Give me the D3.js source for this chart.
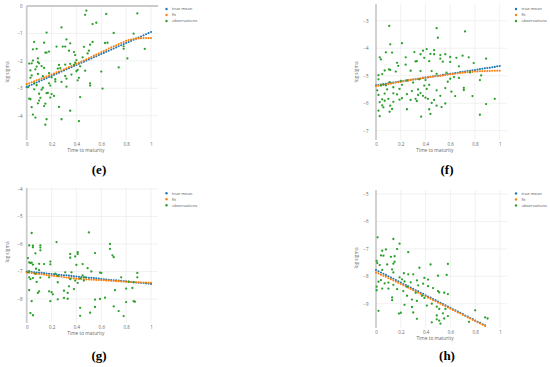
<!DOCTYPE html>
<html>
<head>
<meta charset="utf-8">
<script src="https://cdn.jsdelivr.net/npm/d3@7"></script>
<style>
    body { margin: 0; background: #fff; }
    svg { display: block; }
    .tick text, .lbl { font-family: "Open Sans", Arial, sans-serif; fill: #666; }
    .cap { font-family: "Liberation Serif", "DejaVu Serif", serif; font-weight: bold; fill: #000; }
</style>
</head>
<body>
<svg id="chart" width="550" height="367"></svg>
<script>
"use strict";

// maturity grid of the model curves
const X_GRID = [0, 0.02, 0.04, 0.06, 0.08, 0.1, 0.12, 0.14, 0.16, 0.18, 0.2, 0.22, 0.24, 0.26, 0.28, 0.3, 0.32, 0.34, 0.36, 0.38,
    0.4, 0.42, 0.44, 0.46, 0.48, 0.5, 0.52, 0.54, 0.56, 0.58, 0.6, 0.62, 0.64, 0.66, 0.68, 0.7, 0.72, 0.74, 0.76, 0.78,
    0.8, 0.82, 0.84, 0.86, 0.88, 0.9, 0.92, 0.94, 0.96, 0.98, 1];
const X_GRID_H = [0, 0.02, 0.04, 0.06, 0.08, 0.1, 0.12, 0.14, 0.16, 0.18, 0.2, 0.22, 0.24, 0.26, 0.28, 0.3, 0.32, 0.34, 0.36, 0.38,
    0.4, 0.42, 0.44, 0.46, 0.48, 0.5, 0.52, 0.54, 0.56, 0.58, 0.6, 0.62, 0.64, 0.66, 0.68, 0.7, 0.72, 0.74, 0.76, 0.78,
    0.8, 0.82, 0.84, 0.86, 0.88];

const X_TICKS = [0, 0.2, 0.4, 0.6, 0.8, 1];
const Y_TICKS_E = [0, -1, -2, -3, -4];
const Y_TICKS_F = [-3, -4, -5, -6, -7];
const Y_TICKS_G = [-4, -5, -6, -7, -8];
const Y_TICKS_H = [-5, -6, -7, -8, -9];

const SERIES_NAMES = ["true mean", "fit", "observations"];
const SERIES_COLORS = ["#1f77b4", "#ff7f0e", "#2ca02c"];
const X_TITLE = "Time to maturity";
const Y_TITLE = "log sigma";
const CAPTIONS = ["(e)", "(f)", "(g)", "(h)"];

// (e)
const MEAN_E = [-2.95, -2.91, -2.87, -2.83, -2.79, -2.75, -2.71, -2.67, -2.63, -2.59, -2.55, -2.51, -2.47, -2.43, -2.39, -2.35, -2.31,
    -2.27, -2.23, -2.19, -2.15, -2.11, -2.07, -2.03, -1.99, -1.95, -1.91, -1.87, -1.83, -1.79, -1.75, -1.71, -1.67, -1.63, -1.59,
    -1.55, -1.51, -1.47, -1.43, -1.39, -1.35, -1.31, -1.27, -1.23, -1.19, -1.15, -1.11, -1.07, -1.03, -0.99, -0.95];
const FIT_E = [-2.85, -2.82, -2.78, -2.75, -2.71, -2.68, -2.64, -2.61, -2.57, -2.54, -2.5, -2.46, -2.42, -2.39, -2.35, -2.31, -2.27,
    -2.23, -2.19, -2.15, -2.11, -2.07, -2.03, -1.99, -1.94, -1.9, -1.86, -1.81, -1.77, -1.73, -1.68, -1.64, -1.6, -1.55, -1.51,
    -1.47, -1.43, -1.39, -1.35, -1.31, -1.27, -1.24, -1.22, -1.2, -1.19, -1.18, -1.18, -1.17, -1.17, -1.17, -1.17];
const OBS_X_E = [0.48, 0.47, 0.64, 0.89, 0.28, 0.53, 0.56, 0.16, 0.7, 0.86, 0.14, 0.06, 0.32, 0.35, 0.53, 0.51, 0.63, 0.65, 0.46, 0.29,
    0.31, 0.24, 0.78, 0.95, 0.05, 0.08, 0.15, 0.16, 0.18, 0.34, 0.38, 0.39, 0.49, 0.5, 0.78, 0.81, 0.09, 0.4, 0.45, 0.35,
    0.38, 0.31, 0.02, 0.04, 0.09, 0.1, 0.08, 0.12, 0.14, 0.05, 0.07, 0.03, 0.25, 0.27, 0.4, 0.41, 0.74, 0.6, 0.47, 0.04,
    0.09, 0.03, 0.13, 0.2, 0.31, 0.32, 0.23, 0.28, 0.41, 0.42, 0.51, 0.51, 0.06, 0.08, 0.18, 0.19, 0.32, 0.01, 0.06, 0.13,
    0.61, 0.16, 0.2, 0.22, 0.19, 0.17, 0.02, 0.03, 0.11, 0.1, 0.09, 0.15, 0.14, 0.04, 0.26, 0.43, 0.35, 0.05, 0.07, 0.28,
    0.16, 0.15, 0.42, 0.18, 0.26, 0.36, 0.43, 0.39, 0.23, 0.1, 0.12];
const OBS_Y_E = [-0.17, -0.32, -0.29, -0.27, -0.78, -0.66, -0.61, -0.97, -0.98, -1.01, -1.34, -1.31, -1.22, -1.36, -1.31, -1.41, -1.35,
    -1.34, -1.49, -1.48, -1.48, -1.48, -1.47, -1.56, -1.58, -1.56, -1.7, -1.7, -1.66, -1.63, -1.68, -1.79, -1.73, -1.63,
    -1.56, -1.91, -1.91, -1.97, -1.87, -2.11, -2.15, -2.14, -2.1, -2.09, -2.05, -2.09, -2.21, -2.19, -2.26, -1.99, -2.31,
    -2.35, -2.28, -2.27, -2.38, -2.33, -2.24, -2.39, -2.36, -2.53, -2.48, -2.62, -2.56, -2.6, -2.55, -2.65, -2.75, -2.77,
    -2.71, -2.62, -2.82, -2.9, -2.82, -2.89, -2.82, -2.9, -2.94, -2.96, -3.04, -2.98, -3.01, -3.18, -3.21, -3.28, -3.34,
    -3.17, -3.38, -3.4, -3.35, -3.45, -3.55, -3.56, -3.65, -3.69, -3.68, -3.32, -3.82, -3.96, -4.07, -4.13, -4.13, -4.33,
    -4.2, -2.45, -2.15, -2.5, -2.2, -2.07, -2.67, -3.2, -3.05];

// (f)
const MEAN_F = [-5.35, -5.34, -5.32, -5.31, -5.29, -5.28, -5.27, -5.25, -5.24, -5.22, -5.21, -5.2, -5.18, -5.17, -5.15, -5.14, -5.13,
    -5.11, -5.1, -5.08, -5.07, -5.06, -5.04, -5.03, -5.01, -5, -4.99, -4.97, -4.96, -4.94, -4.93, -4.92, -4.9, -4.89, -4.87,
    -4.86, -4.85, -4.83, -4.82, -4.8, -4.79, -4.78, -4.76, -4.75, -4.73, -4.72, -4.71, -4.69, -4.68, -4.66, -4.65];
const FIT_F = [-5.38, -5.36, -5.35, -5.33, -5.32, -5.3, -5.28, -5.27, -5.25, -5.24, -5.22, -5.2, -5.19, -5.17, -5.16, -5.14, -5.13,
    -5.11, -5.1, -5.08, -5.07, -5.06, -5.05, -5.03, -5.02, -5.01, -5, -4.99, -4.97, -4.96, -4.95, -4.94, -4.93, -4.91, -4.9,
    -4.89, -4.88, -4.87, -4.86, -4.86, -4.85, -4.85, -4.84, -4.84, -4.83, -4.83, -4.83, -4.82, -4.82, -4.82, -4.82];
const OBS_X_F = [0.107, 0.49, 0.5, 0.72, 0.115, 0.21, 0.41, 0.38, 0.47, 0.08, 0.13, 0.31, 0.36, 0.44, 0.47, 0.52, 0.56, 0.6, 0.65,
    0.7, 0.75, 0.03, 0.04, 0.24, 0.32, 0.33, 0.43, 0.39, 0.52, 0.54, 0.6, 0.79, 0.89, 0.17, 0.18, 0.24, 0.105, 0.115, 0.07,
    0.16, 0.28, 0.36, 0.45, 0.05, 0.02, 0.49, 0.57, 0.67, 0.76, 0.85, 0.84, 0.02, 0.11, 0.2, 0.25, 0.35, 0.4, 0.6, 0.63,
    0.67, 0.06, 0.04, 0.08, 0.21, 0.3, 0.39, 0.43, 0.58, 0.71, 0.71, 0.01, 0.09, 0.14, 0.19, 0.29, 0.34, 0.41, 0.49, 0.56,
    0.02, 0.07, 0.14, 0.17, 0.25, 0.34, 0.36, 0.38, 0.4, 0.52, 0.61, 0.64, 0.78, 0.05, 0.1, 0.19, 0.21, 0.28, 0.32, 0.42,
    0.47, 0.03, 0.07, 0.14, 0.33, 0.45, 0.49, 0.56, 0.53, 0.96, 0.89, 0.05, 0.06, 0.115, 0.02, 0.11, 0.25, 0.43, 0.03,
    0.365, 0.44, 0.84, 0.13];
const OBS_Y_F = [-3.19, -3.27, -3.62, -3.39, -3.86, -3.82, -4.03, -4.09, -4.07, -4.15, -4.16, -4.14, -4.22, -4.21, -4.22, -4.25,
    -4.22, -4.32, -4.35, -4.27, -4.33, -4.33, -4.41, -4.33, -4.48, -4.47, -4.47, -4.35, -4.38, -4.49, -4.5, -4.54, -4.38,
    -4.53, -4.64, -4.6, -4.77, -4.79, -4.81, -4.85, -4.82, -4.83, -4.83, -4.94, -4.98, -4.93, -4.89, -4.66, -4.88, -4.99,
    -5.16, -5.13, -5.23, -5.19, -5.17, -5.13, -5.16, -5.11, -5.05, -5.08, -5.32, -5.36, -5.35, -5.33, -5.25, -5.36, -5.33,
    -5.22, -5.44, -5.52, -5.53, -5.5, -5.42, -5.48, -5.56, -5.5, -5.48, -5.53, -5.45, -5.7, -5.65, -5.64, -5.68, -5.67,
    -5.7, -5.63, -5.73, -5.8, -5.73, -5.58, -5.74, -5.74, -5.86, -5.84, -5.87, -5.82, -5.88, -5.84, -5.84, -5.88, -5.96,
    -5.91, -5.95, -5.92, -5.99, -6.09, -6.01, -6.14, -5.84, -6.03, -6.08, -6.15, -6.09, -6.27, -6.31, -6.22, -6.22, -6.47,
    -6.49, -6.39, -6.42, -6.21];

// (g)
const MEAN_G = [-7, -7.01, -7.02, -7.03, -7.04, -7.05, -7.05, -7.06, -7.07, -7.08, -7.09, -7.1, -7.11, -7.12, -7.13, -7.14, -7.14,
    -7.15, -7.16, -7.17, -7.18, -7.19, -7.2, -7.21, -7.22, -7.23, -7.23, -7.24, -7.25, -7.26, -7.27, -7.28, -7.29, -7.3, -7.31,
    -7.32, -7.32, -7.33, -7.34, -7.35, -7.36, -7.37, -7.38, -7.39, -7.4, -7.41, -7.41, -7.42, -7.43, -7.44, -7.45];
const FIT_G = [-7.03, -7.04, -7.05, -7.07, -7.08, -7.09, -7.1, -7.11, -7.13, -7.14, -7.15, -7.16, -7.17, -7.18, -7.19, -7.21, -7.22,
    -7.23, -7.24, -7.25, -7.26, -7.27, -7.27, -7.28, -7.29, -7.29, -7.3, -7.3, -7.31, -7.31, -7.32, -7.32, -7.33, -7.33, -7.34,
    -7.34, -7.35, -7.35, -7.36, -7.36, -7.37, -7.37, -7.38, -7.38, -7.39, -7.39, -7.4, -7.4, -7.4, -7.41, -7.41];
const OBS_X_G = [0.5, 0.04, 0.24, 0.67, 0.67, 0.55, 0.02, 0.05, 0.05, 0.11, 0.11, 0.11, 0.07, 0.01, 0.41, 0.41, 0.39, 0.35, 0.35,
    0.69, 0.7, 0.02, 0.03, 0.04, 0.05, 0.1, 0.14, 0.19, 0.19, 0.4, 0.45, 0.49, 0.52, 0.59, 0.6, 0.075, 0.1, 0.01, 0.02, 0.07,
    0.23, 0.31, 0.36, 0.25, 0.05, 0.03, 0.02, 0.11, 0.18, 0.45, 0.43, 0.46, 0.47, 0.35, 0.39, 0.08, 0.25, 0.41, 0.76, 0.89,
    0.89, 0.82, 0.86, 0.34, 0.38, 0.02, 0.1, 0.09, 0.18, 0.2, 0.21, 0.3, 0.33, 0.3, 0.25, 0.33, 0.71, 0.8, 0.85, 0.04, 0.19,
    0.55, 0.59, 0.63, 0.8, 0.86, 0.87, 0.55, 0.7, 0.43, 0.74, 0.51, 0.03, 0.05, 0.43, 0.78];
const OBS_Y_G = [-5.58, -5.6, -5.93, -6, -6.18, -6.33, -6.05, -6.06, -6.12, -6.05, -6.13, -6.23, -6.34, -6.51, -6.3, -6.36, -6.45,
    -6.36, -6.5, -6.41, -6.48, -6.67, -6.69, -6.68, -6.75, -6.72, -6.73, -6.64, -6.74, -6.76, -6.73, -6.88, -7, -7.04, -7.05,
    -6.9, -6.95, -7.03, -6.99, -7.08, -7.08, -7.03, -7.03, -7.16, -7.24, -7.28, -7.21, -7.22, -7.21, -7.14, -7.25, -7.33,
    -7.21, -7.28, -7.33, -7.38, -7.39, -7.41, -7.21, -7.21, -7.05, -7.37, -7.39, -7.54, -7.64, -7.68, -7.72, -7.78, -7.72,
    -7.75, -7.83, -7.7, -7.78, -7.96, -8.01, -7.99, -7.68, -7.62, -7.6, -8.08, -8.08, -8.02, -8, -7.95, -8.11, -8.08, -8.1,
    -8.29, -8.27, -8.32, -8.44, -8.5, -8.51, -8.59, -8.61, -8.62];

// (h)
const MEAN_H = [-7.77, -7.82, -7.86, -7.91, -7.95, -8, -8.05, -8.09, -8.14, -8.18, -8.23, -8.28, -8.32, -8.37, -8.41, -8.46, -8.51,
    -8.55, -8.6, -8.64, -8.69, -8.74, -8.78, -8.83, -8.87, -8.92, -8.97, -9.01, -9.06, -9.1, -9.15, -9.2, -9.24, -9.29, -9.33,
    -9.38, -9.43, -9.47, -9.52, -9.56, -9.61, -9.66, -9.7, -9.75, -9.79];
const FIT_H = [-7.86, -7.9, -7.94, -7.98, -8.02, -8.07, -8.11, -8.15, -8.2, -8.24, -8.28, -8.33, -8.37, -8.42, -8.46, -8.51, -8.55,
    -8.6, -8.64, -8.69, -8.73, -8.78, -8.82, -8.87, -8.91, -8.96, -9, -9.05, -9.09, -9.14, -9.18, -9.23, -9.27, -9.32, -9.36,
    -9.41, -9.45, -9.5, -9.54, -9.59, -9.63, -9.68, -9.72, -9.77, -9.81];
const OBS_X_H = [0.013, 0.14, 0.19, 0.08, 0.05, 0.04, 0.06, 0.26, 0.17, 0.12, 0.15, 0.005, 0.01, 0.03, 0.09, 0.14, 0.15, 0.44, 0.58,
    0.35, 0.05, 0.13, 0.14, 0.225, 0.26, 0.3, 0.5, 0.57, 0.19, 0.21, 0.23, 0.39, 0.42, 0.33, 0.28, 0.02, 0.04, 0.07, 0.1, 0.14,
    0.005, 0.005, 0.05, 0.1, 0.17, 0.25, 0.34, 0.38, 0.42, 0.46, 0.5, 0.51, 0.55, 0.58, 0.22, 0.32, 0.13, 0.13, 0.25, 0.29,
    0.33, 0.37, 0.39, 0.23, 0.29, 0.41, 0.45, 0.49, 0.56, 0.51, 0.02, 0.185, 0.2, 0.3, 0.49, 0.54, 0.58, 0.8, 0.33, 0.49,
    0.51, 0.45, 0.55, 0.75, 0.88, 0.9, 0.52];
const OBS_Y_H = [-6.58, -6.64, -6.81, -7.02, -7.07, -7.24, -7.25, -7.12, -7.01, -7.29, -7.27, -7.44, -7.52, -7.59, -7.57, -7.54,
    -7.47, -7.57, -7.55, -7.69, -7.77, -7.75, -7.86, -7.89, -7.93, -7.93, -7.98, -7.95, -8.04, -8.11, -8.19, -8.06, -8.12,
    -8.15, -8.22, -8.2, -8.14, -8.26, -8.23, -8.31, -8.38, -8.51, -8.45, -8.45, -8.47, -8.38, -8.33, -8.27, -8.36, -8.43,
    -8.54, -8.59, -8.6, -8.65, -8.54, -8.6, -8.77, -8.87, -8.71, -8.85, -8.9, -8.71, -8.79, -9.04, -9.12, -9.07, -9, -9.11,
    -9.19, -9.19, -9.26, -9.36, -9.33, -9.32, -9.43, -9.35, -9.45, -9.24, -9.55, -9.57, -9.62, -9.68, -9.54, -9.66, -9.5,
    -9.54, -9.73];

// pixel frames of the four sub plots
const FRAMES = [
    { x0: 26.7, x1: 151, right: 158, yv: [0, -4], yp: [6, 115.7], top: 6, bottom: 140, pad: 4, titleX: 7, titleY: 72, legX: 166.5, legY: 9, capX: 99, capY: 174 },
    { x0: 376, x1: 499.7, right: 507, yv: [-3, -7], yp: [20.7, 130.7], top: 4, bottom: 140, pad: 7.5, titleX: 356.5, titleY: 72, legX: 516, legY: 9, capX: 447, capY: 174 },
    { x0: 26.7, x1: 151, right: 158, yv: [-4, -8], yp: [189, 299], top: 188, bottom: 323, pad: 4, titleX: 7, titleY: 252, legX: 166.5, legY: 193.3, capX: 99, capY: 360 },
    { x0: 376, x1: 500, right: 507, yv: [-5, -9], yp: [194, 303.7], top: 190, bottom: 328, pad: 7.5, titleX: 356.5, titleY: 258, legX: 516, legY: 193.5, capX: 447, capY: 360 }
];

const PANELS = [
    { grid: X_GRID, mean: MEAN_E, fit: FIT_E, ox: OBS_X_E, oy: OBS_Y_E, yTicks: Y_TICKS_E },
    { grid: X_GRID, mean: MEAN_F, fit: FIT_F, ox: OBS_X_F, oy: OBS_Y_F, yTicks: Y_TICKS_F },
    { grid: X_GRID, mean: MEAN_G, fit: FIT_G, ox: OBS_X_G, oy: OBS_Y_G, yTicks: Y_TICKS_G },
    { grid: X_GRID_H, mean: MEAN_H, fit: FIT_H, ox: OBS_X_H, oy: OBS_Y_H, yTicks: Y_TICKS_H }
];

const SVG = d3.select("#chart");

PANELS.forEach((p, i) => drawPanel(p, FRAMES[i], CAPTIONS[i]));

function drawPanel(p, f, caption) {
    const xScale = d3.scaleLinear().domain([0, 1]).range([f.x0, f.x1]);
    const yScale = d3.scaleLinear().domain(f.yv).range(f.yp);
    const g = SVG.append("g");

    // grid
    g.selectAll("line.vg").data(X_TICKS.filter(d => d > 0)).join("line")
        .attr("x1", d => xScale(d)).attr("x2", d => xScale(d))
        .attr("y1", f.top).attr("y2", f.bottom)
        .attr("stroke", "#eee").attr("stroke-width", 0.8);
    g.selectAll("line.hg").data(p.yTicks.filter(d => d !== 0)).join("line")
        .attr("x1", f.x0).attr("x2", f.right)
        .attr("y1", d => yScale(d)).attr("y2", d => yScale(d))
        .attr("stroke", "#eee").attr("stroke-width", 0.8);

    // zero lines
    g.append("line")
        .attr("x1", xScale(0)).attr("x2", xScale(0))
        .attr("y1", f.top).attr("y2", f.bottom)
        .attr("stroke", "#ccc").attr("stroke-width", 1.8);
    if (p.yTicks.includes(0)) {
        g.append("line")
            .attr("x1", f.x0).attr("x2", f.right)
            .attr("y1", yScale(0)).attr("y2", yScale(0))
            .attr("stroke", "#ccc").attr("stroke-width", 1.8);
    }

    // axes
    const xAxis = g.append("g")
        .attr("transform", `translate(0, ${f.bottom})`)
        .call(d3.axisBottom(xScale).tickValues(X_TICKS).tickSize(0).tickPadding(2.4).tickFormat(d3.format("")));
    const yAxis = g.append("g")
        .attr("transform", `translate(${f.x0}, 0)`)
        .call(d3.axisLeft(yScale).tickValues(p.yTicks).tickSize(0).tickPadding(f.pad).tickFormat(d3.format("")));
    [xAxis, yAxis].forEach(a => {
        a.select(".domain").remove();
        a.selectAll("text").style("font-size", "4.5px");
    });

    g.append("text").attr("class", "lbl")
        .attr("x", (f.x0 + f.x1) / 2 - 3).attr("y", f.bottom + 12)
        .attr("text-anchor", "middle").style("font-size", "4.8px")
        .text(X_TITLE);
    g.append("text").attr("class", "lbl")
        .attr("transform", `translate(${f.titleX}, ${f.titleY}) rotate(-90)`)
        .attr("text-anchor", "middle").attr("dy", "0.35em").style("font-size", "4.8px")
        .text(Y_TITLE);

    // series
    const curves = [p.mean, p.fit];
    curves.forEach((vals, k) => {
        g.append("g").selectAll("circle").data(vals).join("circle")
            .attr("cx", (d, j) => xScale(p.grid[j]))
            .attr("cy", d => yScale(d))
            .attr("r", 1.05)
            .attr("fill", SERIES_COLORS[k]);
    });
    g.append("g").selectAll("circle").data(p.oy).join("circle")
        .attr("cx", (d, j) => xScale(p.ox[j]))
        .attr("cy", d => yScale(d))
        .attr("r", 1.15)
        .attr("fill", SERIES_COLORS[2]);

    // legend
    const leg = g.append("g").attr("transform", `translate(${f.legX}, ${f.legY})`);
    SERIES_NAMES.forEach((name, k) => {
        leg.append("circle").attr("cx", 0).attr("cy", k * 6).attr("r", 1.2).attr("fill", SERIES_COLORS[k]);
        leg.append("text").attr("class", "lbl")
            .attr("x", 5.5).attr("y", k * 6).attr("dy", "0.35em")
            .style("font-size", "4.2px").style("fill", "#555")
            .text(name);
    });

    SVG.append("text").attr("class", "cap")
        .attr("x", f.capX).attr("y", f.capY)
        .attr("text-anchor", "middle").style("font-size", "13px")
        .text(caption);
}
</script>
</body>
</html>
